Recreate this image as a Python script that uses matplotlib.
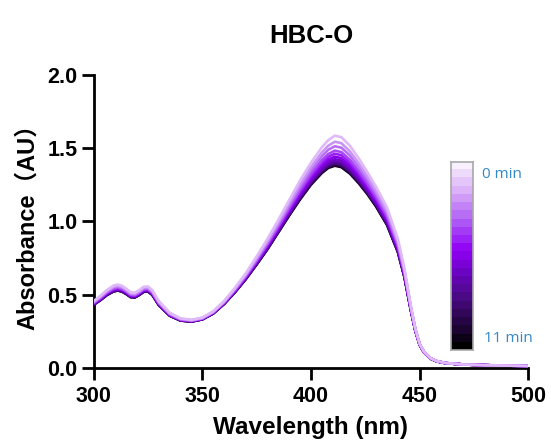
import numpy as np
import matplotlib
matplotlib.use("Agg")
import matplotlib.pyplot as plt
from matplotlib.colors import LinearSegmentedColormap

# ---- data -------------------------------------------------------------
title = "HBC-O"
x_label = "Wavelength (nm)"
y_label = "Absorbance\uff08AU\uff09"
time_labels = ["0 min", "11 min"]
scan_minutes = [0, 1, 2, 3, 4, 5, 6, 7, 8, 9, 10, 11]

wavelength = [300, 303, 306, 309, 311, 313, 315, 317, 319, 321, 323, 325, 327,
              330, 335, 340, 345, 350, 355, 360, 365, 370, 375, 380, 385, 390,
              395, 400, 405, 408, 411, 414, 418, 422, 426, 430, 435, 440, 443,
              446, 448, 450, 452, 455, 458, 462, 470, 480, 490, 500]

# one row per wavelength, one column per scan (0 min ... 11 min)
absorbance = [
    [0.455, 0.450, 0.446, 0.443, 0.440, 0.438, 0.436, 0.434, 0.433, 0.432, 0.431, 0.430],
    [0.490, 0.484, 0.480, 0.475, 0.472, 0.469, 0.467, 0.465, 0.463, 0.462, 0.461, 0.460],
    [0.530, 0.523, 0.518, 0.513, 0.509, 0.506, 0.503, 0.500, 0.499, 0.497, 0.496, 0.495],
    [0.560, 0.552, 0.546, 0.540, 0.536, 0.532, 0.529, 0.526, 0.524, 0.522, 0.521, 0.520],
    [0.568, 0.560, 0.554, 0.548, 0.543, 0.539, 0.536, 0.533, 0.531, 0.530, 0.528, 0.527],
    [0.560, 0.552, 0.546, 0.540, 0.536, 0.532, 0.529, 0.526, 0.524, 0.522, 0.521, 0.520],
    [0.540, 0.533, 0.527, 0.522, 0.518, 0.514, 0.511, 0.509, 0.507, 0.505, 0.504, 0.503],
    [0.515, 0.508, 0.503, 0.499, 0.495, 0.492, 0.489, 0.487, 0.485, 0.484, 0.483, 0.482],
    [0.512, 0.506, 0.501, 0.496, 0.493, 0.490, 0.487, 0.485, 0.483, 0.482, 0.481, 0.480],
    [0.530, 0.523, 0.518, 0.514, 0.510, 0.507, 0.504, 0.502, 0.500, 0.499, 0.498, 0.497],
    [0.553, 0.546, 0.541, 0.536, 0.532, 0.529, 0.526, 0.523, 0.522, 0.520, 0.519, 0.518],
    [0.555, 0.548, 0.543, 0.538, 0.534, 0.531, 0.528, 0.525, 0.524, 0.522, 0.521, 0.520],
    [0.530, 0.523, 0.518, 0.514, 0.510, 0.507, 0.504, 0.502, 0.500, 0.499, 0.498, 0.497],
    [0.455, 0.449, 0.445, 0.441, 0.438, 0.435, 0.433, 0.431, 0.430, 0.429, 0.428, 0.427],
    [0.375, 0.371, 0.368, 0.365, 0.363, 0.361, 0.359, 0.358, 0.357, 0.356, 0.356, 0.355],
    [0.337, 0.334, 0.332, 0.330, 0.328, 0.327, 0.325, 0.324, 0.324, 0.323, 0.322, 0.322],
    [0.327, 0.325, 0.323, 0.321, 0.320, 0.319, 0.318, 0.317, 0.316, 0.316, 0.315, 0.315],
    [0.342, 0.340, 0.338, 0.336, 0.335, 0.334, 0.333, 0.332, 0.331, 0.331, 0.330, 0.330],
    [0.385, 0.382, 0.380, 0.378, 0.376, 0.375, 0.373, 0.372, 0.372, 0.371, 0.370, 0.370],
    [0.455, 0.451, 0.448, 0.445, 0.443, 0.441, 0.439, 0.438, 0.437, 0.436, 0.436, 0.435],
    [0.545, 0.539, 0.535, 0.530, 0.527, 0.524, 0.522, 0.520, 0.518, 0.517, 0.516, 0.515],
    [0.645, 0.637, 0.631, 0.625, 0.621, 0.617, 0.614, 0.611, 0.609, 0.607, 0.606, 0.605],
    [0.760, 0.749, 0.741, 0.733, 0.727, 0.722, 0.717, 0.713, 0.711, 0.708, 0.707, 0.705],
    [0.880, 0.866, 0.856, 0.845, 0.838, 0.831, 0.825, 0.821, 0.817, 0.814, 0.812, 0.810],
    [1.010, 0.993, 0.980, 0.968, 0.959, 0.951, 0.944, 0.938, 0.934, 0.930, 0.928, 0.925],
    [1.145, 1.124, 1.108, 1.093, 1.082, 1.072, 1.063, 1.056, 1.051, 1.046, 1.043, 1.040],
    [1.280, 1.254, 1.235, 1.215, 1.202, 1.189, 1.179, 1.170, 1.163, 1.158, 1.154, 1.150],
    [1.400, 1.370, 1.348, 1.325, 1.310, 1.295, 1.283, 1.273, 1.265, 1.259, 1.255, 1.250],
    [1.505, 1.470, 1.444, 1.418, 1.400, 1.383, 1.369, 1.356, 1.348, 1.341, 1.335, 1.330],
    [1.555, 1.517, 1.489, 1.460, 1.441, 1.422, 1.407, 1.394, 1.384, 1.376, 1.371, 1.365],
    [1.585, 1.544, 1.513, 1.483, 1.462, 1.442, 1.425, 1.411, 1.401, 1.392, 1.386, 1.380],
    [1.575, 1.534, 1.503, 1.473, 1.452, 1.432, 1.415, 1.401, 1.391, 1.382, 1.376, 1.370],
    [1.515, 1.477, 1.449, 1.420, 1.401, 1.382, 1.367, 1.354, 1.344, 1.336, 1.331, 1.325],
    [1.430, 1.396, 1.371, 1.345, 1.328, 1.311, 1.297, 1.286, 1.277, 1.270, 1.265, 1.260],
    [1.335, 1.305, 1.283, 1.260, 1.245, 1.230, 1.218, 1.208, 1.200, 1.194, 1.190, 1.185],
    [1.235, 1.208, 1.188, 1.168, 1.154, 1.141, 1.130, 1.120, 1.114, 1.108, 1.104, 1.100],
    [1.095, 1.071, 1.053, 1.035, 1.023, 1.011, 1.001, 0.993, 0.987, 0.982, 0.979, 0.975],
    [0.880, 0.862, 0.849, 0.835, 0.826, 0.817, 0.810, 0.804, 0.799, 0.795, 0.793, 0.790],
    [0.680, 0.668, 0.659, 0.650, 0.644, 0.638, 0.633, 0.629, 0.626, 0.624, 0.622, 0.620],
    [0.420, 0.414, 0.410, 0.405, 0.402, 0.399, 0.397, 0.395, 0.393, 0.392, 0.391, 0.390],
    [0.270, 0.267, 0.265, 0.263, 0.261, 0.260, 0.258, 0.257, 0.257, 0.256, 0.255, 0.255],
    [0.165, 0.163, 0.162, 0.161, 0.160, 0.159, 0.159, 0.158, 0.158, 0.157, 0.157, 0.157],
    [0.110, 0.109, 0.108, 0.108, 0.107, 0.107, 0.106, 0.106, 0.106, 0.105, 0.105, 0.105],
    [0.065, 0.064, 0.064, 0.064, 0.063, 0.063, 0.063, 0.062, 0.062, 0.062, 0.062, 0.062],
    [0.045, 0.045, 0.044, 0.044, 0.044, 0.044, 0.043, 0.043, 0.043, 0.043, 0.043, 0.043],
    [0.032, 0.032, 0.032, 0.032, 0.031, 0.031, 0.031, 0.031, 0.031, 0.031, 0.031, 0.031],
    [0.022, 0.022, 0.022, 0.022, 0.022, 0.022, 0.022, 0.022, 0.022, 0.022, 0.022, 0.022],
    [0.017, 0.017, 0.017, 0.017, 0.017, 0.017, 0.017, 0.017, 0.017, 0.017, 0.017, 0.017],
    [0.014, 0.014, 0.014, 0.014, 0.014, 0.014, 0.014, 0.014, 0.014, 0.014, 0.014, 0.014],
    [0.012, 0.012, 0.012, 0.012, 0.012, 0.012, 0.012, 0.012, 0.012, 0.012, 0.012, 0.012],
]

x_ticks = [300, 350, 400, 450, 500]
y_ticks = [0.0, 0.5, 1.0, 1.5, 2.0]

# ---- style ------------------------------------------------------------
FONT = ["Liberation Sans", "Noto Sans CJK SC", "DejaVu Sans"]
plt.rcParams["font.family"] = FONT

# black (last scan) -> violet -> pale lilac (first scan)
time_cmap = LinearSegmentedColormap.from_list(
    "time_violet",
    [(0.00, "#000000"), (0.10, "#1e0535"), (0.27, "#4a0a85"),
     (0.40, "#6a05c0"), (0.53, "#9000f5"), (0.70, "#b060f5"),
     (0.85, "#d8aaf8"), (1.00, "#f8f0fd")])

fig = plt.figure(figsize=(5.51, 4.46), dpi=100)
ax = fig.add_axes([0.170, 0.1756, 0.7887, 0.6563])

wl = np.asarray(wavelength)
spectra = np.asarray(absorbance)
n_scans = spectra.shape[1]

# latest scan first so the earlier (lighter) traces sit on top
for k in reversed(range(n_scans)):
    frac = 1.0 - k / (n_scans - 1)
    ax.plot(wl, spectra[:, k], color=time_cmap(0.05 + 0.83 * frac),
            lw=1.9, solid_capstyle="round", solid_joinstyle="round",
            zorder=2 + (n_scans - k))

ax.set_xlim(300, 500)
ax.set_ylim(0, 2.0)
ax.set_xticks(x_ticks)
ax.set_yticks(y_ticks)
ax.set_yticklabels([f"{v:.1f}" for v in y_ticks])

for side in ("top", "right"):
    ax.spines[side].set_visible(False)
for side in ("left", "bottom"):
    ax.spines[side].set_linewidth(2.0)
    ax.spines[side].set_color("black")

ax.tick_params(axis="both", which="major", direction="out", length=8.5,
               width=2.0, color="black", labelsize=15.5, pad=3)
ax.tick_params(axis="x", pad=5)
for lab in ax.get_xticklabels() + ax.get_yticklabels():
    lab.set_fontweight("bold")

ax.set_xlabel(x_label, fontsize=17.5, fontweight="bold", labelpad=6)
ax.set_ylabel(y_label, fontsize=17, fontweight="bold", labelpad=6)
ax.set_title(title, fontsize=18.5, fontweight="bold", pad=23)

# stepped time colour bar
cax = fig.add_axes([0.818, 0.2152, 0.0399, 0.4222])
n_steps = 23
steps = np.linspace(0, 1, n_steps).reshape(-1, 1)
cax.imshow(steps, cmap=time_cmap, aspect="auto", origin="lower",
           extent=(0, 1, 0, 1), interpolation="nearest")
cax.set_xticks([])
cax.set_yticks([])
for sp in cax.spines.values():
    sp.set_color("#a8a8a8")
    sp.set_linewidth(1.2)

label_color = "#3488c8"
label_font = ["Open Sans", "DejaVu Sans"]
fig.text(0.875, 1 - 175 / 446, time_labels[0], color=label_color,
         fontsize=11, family=label_font, va="center", ha="left")
fig.text(0.879, 1 - 339 / 446, time_labels[1], color=label_color,
         fontsize=11, family=label_font, va="center", ha="left")

fig.savefig("out.png", dpi=100)
